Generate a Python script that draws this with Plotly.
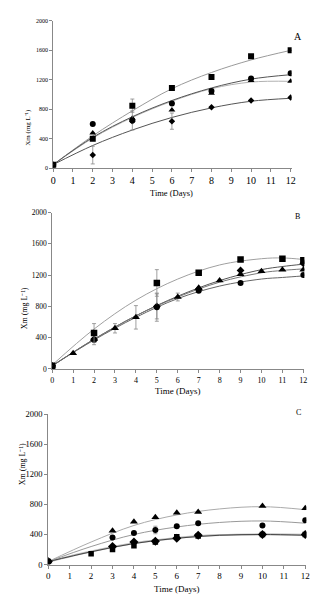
import plotly.graph_objects as go

# ---------------- Panel A ----------------
A_days = [0, 2, 4, 6, 8, 10, 12]
A_square = [50, 400, 850, 1090, 1240, 1520, 1600]
A_circle = [50, 600, 650, 880, 1050, 1220, 1290]
A_triangle = [50, 480, 680, 790, 1020, 1190, 1180]
A_diamond = [50, 180, 640, 640, 830, 920, 960]
A_square_err = [0, 0, 90, 0, 0, 0, 0]
A_circle_err = [0, 0, 130, 0, 0, 0, 0]
A_triangle_err = [0, 0, 0, 0, 0, 0, 0]
A_diamond_err = [0, 120, 0, 110, 0, 0, 0]

A_fit_days = [0, 2, 4, 6, 8, 10, 12]
A_fit_square = [50, 440, 780, 1080, 1300, 1470, 1600]
A_fit_circle = [50, 420, 700, 920, 1090, 1210, 1270]
A_fit_triangle = [50, 410, 690, 910, 1080, 1170, 1180]
A_fit_diamond = [50, 310, 520, 690, 820, 910, 950]

# ---------------- Panel B ----------------
B_sq_days = [0, 2, 5, 7, 9, 11, 12]
B_square = [40, 460, 1100, 1230, 1400, 1410, 1390]
B_square_err = [0, 120, 170, 0, 0, 0, 0]
B_ci_days = [0, 2, 5, 7, 9, 12]
B_circle = [40, 370, 790, 1000, 1100, 1200]
B_circle_err = [0, 60, 180, 0, 0, 0]
B_di_days = [0, 2, 5, 7, 9, 12]
B_diamond = [40, 380, 800, 1020, 1260, 1350]
B_diamond_err = [0, 0, 160, 0, 0, 0]
B_tr_days = [0, 1, 2, 3, 4, 6, 7, 8, 9, 10, 11, 12]
B_triangle = [40, 200, 380, 520, 660, 920, 1040, 1130, 1210, 1250, 1270, 1270]
B_triangle_err = [0, 0, 0, 60, 150, 50, 0, 0, 0, 0, 0, 0]

B_fit_days = [0, 2, 4, 6, 8, 10, 11, 12]
B_fit_square = [50, 510, 880, 1150, 1330, 1410, 1420, 1400]
B_fit_diamond = [40, 380, 680, 930, 1130, 1270, 1310, 1340]
B_fit_triangle = [40, 380, 680, 920, 1110, 1230, 1260, 1280]
B_fit_circle = [40, 370, 660, 900, 1060, 1150, 1170, 1190]

# ---------------- Panel C ----------------
C_days = [0, 3, 4, 5, 6, 7, 10, 12]
C_triangle = [40, 450, 570, 630, 690, 700, 780, 750]
C_circle = [40, 360, 420, 460, 510, 550, 520, 590]
C_circle_err = [0, 0, 0, 50, 0, 0, 0, 0]
C_diamond = [40, 240, 300, 310, 350, 390, 400, 400]
C_sq_days = [0, 2, 3, 4, 5, 6, 7, 10, 12]
C_square = [40, 145, 200, 250, 300, 370, 380, 400, 400]

C_fit_days = [0, 2, 4, 6, 8, 10, 12]
C_fit_triangle = [40, 300, 520, 660, 740, 770, 730]
C_fit_circle = [40, 240, 400, 500, 560, 580, 550]
C_fit_diamond = [40, 170, 280, 350, 390, 400, 390]
C_fit_square = [40, 175, 285, 355, 392, 402, 395]

y_ticks = [0, 400, 800, 1200, 1600, 2000]
x_ticks = list(range(0, 13))
panel_labels = ["A", "B", "C"]
x_title = "Time (Days)"
y_title = "Xm (mg L⁻¹)"

FONT = "Liberation Serif"
W, H = 321, 596

fig = go.Figure()

def px_dom_x(a, b):
    return [a / W, b / W]

def px_dom_y(top, bottom):
    return [1 - bottom / H, 1 - top / H]

panels = [
    dict(xd=px_dom_x(44, 287), yd=px_dom_y(8, 158), xs=10, ys=6),
    dict(xd=px_dom_x(43, 300), yd=px_dom_y(203, 362), xs=8, ys=7.5),
    dict(xd=px_dom_x(39, 302), yd=px_dom_y(408, 561), xs=9, ys=8.5),
]

def add_fit(i, x, y, color, width=1):
    fig.add_trace(go.Scatter(x=x, y=y, mode="lines", line=dict(color=color, width=width, shape="spline", smoothing=1.0),
                             xaxis="x" + ("" if i == 0 else str(i + 1)), yaxis="y" + ("" if i == 0 else str(i + 1)),
                             showlegend=False, hoverinfo="skip"))

def add_pts(i, x, y, symbol, size, err=None):
    ey = None
    if err is not None:
        ey = dict(type="data", array=err, visible=True, color="#888888", thickness=0.8, width=2)
    fig.add_trace(go.Scatter(x=x, y=y, mode="markers", marker=dict(symbol=symbol, size=size, color="black"),
                             error_y=ey,
                             xaxis="x" + ("" if i == 0 else str(i + 1)), yaxis="y" + ("" if i == 0 else str(i + 1)),
                             showlegend=False))

# Panel A
add_fit(0, A_fit_days, A_fit_square, "#9a9a9a")
add_fit(0, A_fit_days, A_fit_triangle, "#b0b0b0")
add_fit(0, A_fit_days, A_fit_circle, "#555555")
add_fit(0, A_fit_days, A_fit_diamond, "#555555")
add_pts(0, A_days, A_diamond, "diamond", 5, A_diamond_err)
add_pts(0, A_days, A_triangle, "triangle-up", 6, A_triangle_err)
add_pts(0, A_days, A_circle, "circle", 6, A_circle_err)
add_pts(0, A_days, A_square, "square", 6, A_square_err)

# Panel B
add_fit(1, B_fit_days, B_fit_square, "#a0a0a0")
add_fit(1, B_fit_days, B_fit_diamond, "#555555")
add_fit(1, B_fit_days, B_fit_triangle, "#777777")
add_fit(1, B_fit_days, B_fit_circle, "#666666")
add_pts(1, B_di_days, B_diamond, "diamond", 6, B_diamond_err)
add_pts(1, B_tr_days, B_triangle, "triangle-up", 7, B_triangle_err)
add_pts(1, B_ci_days, B_circle, "circle", 6, B_circle_err)
add_pts(1, B_sq_days, B_square, "square", 6.5, B_square_err)

# Panel C
add_fit(2, C_fit_days, C_fit_triangle, "#aaaaaa")
add_fit(2, C_fit_days, C_fit_circle, "#999999")
add_fit(2, C_fit_days, C_fit_square, "#bbbbbb", 2)
add_fit(2, C_fit_days, C_fit_diamond, "#444444")
add_pts(2, C_sq_days, C_square, "square", 5.5)
add_pts(2, C_days, C_diamond, "diamond", 7)
add_pts(2, C_days, C_circle, "circle", 6, C_circle_err)
add_pts(2, C_days, C_triangle, "triangle-up", 7)

layout = dict(width=W, height=H, margin=dict(l=0, r=0, t=0, b=0), paper_bgcolor="white", plot_bgcolor="white",
              font=dict(family=FONT, color="black"))
for i, p in enumerate(panels):
    sx = "" if i == 0 else str(i + 1)
    layout["xaxis" + sx] = dict(domain=p["xd"], anchor="y" + sx, range=[0, 12.05], tickvals=x_ticks,
                                showline=True, linecolor="#888888", linewidth=1, ticks="outside", ticklen=3,
                                tickcolor="#888888", showgrid=False, zeroline=False,
                                tickfont=dict(family=FONT, size=p["xs"], color="black"))
    layout["yaxis" + sx] = dict(domain=p["yd"], anchor="x" + sx, range=[0, 2000], tickvals=y_ticks,
                                showline=True, linecolor="#888888", linewidth=1, ticks="outside", ticklen=3,
                                tickcolor="#888888", showgrid=False, zeroline=False,
                                tickfont=dict(family=FONT, size=p["ys"], color="black"))
fig.update_layout(**layout)

ann = []
label_pos = [(300, 16), (298, 207), (299, 413)]
xtitle_pos = [(165, 183), (171, 384), (170, 586)]
ytitle_pos = [(12, 95), (9, 300), (7, 482)]
xtitle_sizes = [8.5, 9, 9]
ytitle_sizes = [7, 8, 8]
for i in range(3):
    lx, ly = label_pos[i]
    ann.append(dict(x=lx / W, y=1 - ly / H, xref="paper", yref="paper", text=panel_labels[i], showarrow=False,
                    font=dict(family=FONT, size=10 if i == 0 else 8)))
    tx, ty = xtitle_pos[i]
    ann.append(dict(x=tx / W, y=1 - ty / H, xref="paper", yref="paper", text=x_title, showarrow=False,
                    yanchor="middle", font=dict(family=FONT, size=xtitle_sizes[i])))
    yx, yy = ytitle_pos[i]
    ann.append(dict(x=yx / W, y=1 - yy / H, xref="paper", yref="paper", text=y_title,
                    showarrow=False, textangle=-90, font=dict(family=FONT, size=ytitle_sizes[i])))
fig.update_layout(annotations=ann)

fig.write_html("out.html")
